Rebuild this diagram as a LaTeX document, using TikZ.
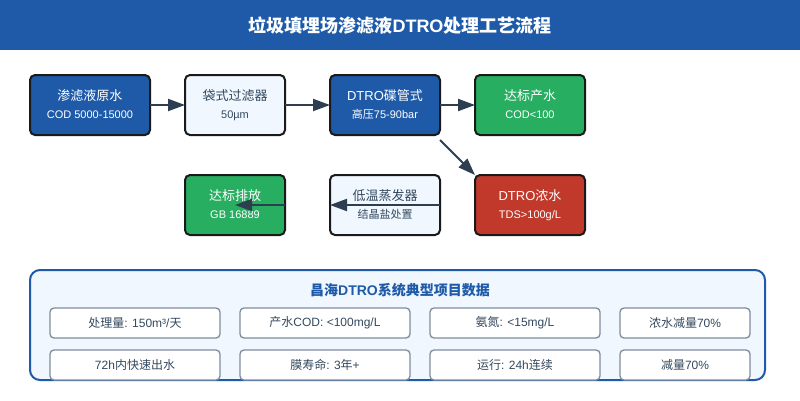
\documentclass[tikz,border=0pt]{standalone}
\usepackage{fontspec}
\usetikzlibrary{arrows.meta}
\setmainfont{Liberation Sans}
\newfontfamily\cjk{Noto Sans CJK SC}
\newcommand{\zh}[1]{{\cjk #1}}
\newcommand{\subline}[1]{{\fontsize{11}{13}\selectfont #1\rule[-2pt]{0pt}{2pt}}}
\definecolor{cband}{HTML}{1E5AA8}
\definecolor{cpale}{HTML}{F0F7FF}
\definecolor{cgreen}{HTML}{27AE60}
\definecolor{cred}{HTML}{C0392B}
\definecolor{cink}{HTML}{1A1A1A}
\definecolor{cflow}{HTML}{2C3E50}
\definecolor{ctext}{HTML}{34495E}
\definecolor{ccard}{HTML}{7F8C9D}
\tikzset{
  procbox/.style={draw=cink,line width=2pt,rounded corners=5pt,outer sep=0pt,inner sep=0pt,
    minimum height=60pt,align=center,font=\fontsize{13}{15}\selectfont},
  darkbox/.style={procbox,text=white},
  palebox/.style={procbox,fill=cpale,text=ctext},
  flow/.style={draw=cflow,line width=2pt,-{Triangle[length=17pt,width=12pt]}},
  card/.style={draw=ccard,line width=1.3pt,fill=white,rounded corners=4pt,outer sep=0pt,inner sep=0pt,
    minimum height=30pt,text=ctext,font=\fontsize{12}{14}\selectfont},
}
\begin{document}
\begin{tikzpicture}[x=1pt,y=-1pt]
\useasboundingbox (0,0) rectangle (800,400);
% title band
\node[fill=cband,minimum width=800pt,minimum height=50pt,outer sep=0pt,inner sep=0pt] (band) at (400,25) {};
\node[text=white,inner sep=0pt,font=\fontsize{18}{22}\selectfont\bfseries] (title) at (400,26)
  {{\cjk\bfseries 垃圾填埋场渗滤液}DTRO{\cjk\bfseries 处理工艺流程}};
% process boxes
\node[darkbox,fill=cband,minimum width=120pt] (raw) at (90,105) {\zh{渗滤液原水}\\[3pt]\subline{COD 5000-15000}};
\node[palebox,minimum width=100pt] (bag) at (235,105) {\zh{袋式过滤器}\\[3pt]\subline{50µm}};
\node[darkbox,fill=cband,minimum width=110pt] (dtro) at (385,105) {DTRO\zh{碟管式}\\[3pt]\subline{\zh{高压}75-90bar}};
\node[darkbox,fill=cgreen,minimum width=110pt] (product) at (530,105) {\zh{达标产水}\\[3pt]\subline{COD<100}};
\node[darkbox,fill=cred,minimum width=110pt] (conc) at (530,205) {DTRO\zh{浓水}\\[3pt]\subline{TDS>100g/L}};
\node[palebox,minimum width=110pt] (evap) at (385,205) {\zh{低温蒸发器}\\[3pt]\subline{\zh{结晶盐处置}}};
\node[darkbox,fill=cgreen,minimum width=100pt] (discharge) at (235,205) {\zh{达标排放}\\[3pt]\subline{GB 16889}};
% connectors
\coordinate (split) at (440,140);
\draw[flow] (raw.east) -- (bag.west);
\draw[flow] (bag.east) -- (dtro.west);
\draw[flow] (dtro.east) -- (product.west);
\draw[flow] (split) -- (conc.north west);
\draw[flow] (evap.east) -- (evap.west);
\draw[flow] (discharge.east) -- (discharge.center);
% data panel
\node[draw=cband,fill=cpale,line width=2pt,rounded corners=10pt,outer sep=0pt,inner sep=0pt,
  minimum width=735pt,minimum height=110pt] (panel) at (397.5,325) {};
\node[text=cband,inner sep=0pt,font=\fontsize{14}{17}\selectfont\bfseries] (paneltitle) at (400,290)
  {{\cjk\bfseries 昌海}DTRO{\cjk\bfseries 系统典型项目数据}};
\node[card,minimum width=170pt] (flowrate) at (135,323) {\zh{处理量}: 150m³/\zh{天}};
\node[card,minimum width=170pt] (cod) at (325,323) {\zh{产水}COD: <100mg/L};
\node[card,minimum width=170pt] (ammonia) at (515,323) {\zh{氨氮}: <15mg/L};
\node[card,minimum width=130pt] (reduce) at (685,323) {\zh{浓水减量}70\%};
\node[card,minimum width=170pt] (quick) at (135,365) {72h\zh{内快速出水}};
\node[card,minimum width=170pt] (life) at (325,365) {\zh{膜寿命}: 3\zh{年}+};
\node[card,minimum width=170pt] (run) at (515,365) {\zh{运行}: 24h\zh{连续}};
\node[card,minimum width=130pt] (less) at (685,365) {\zh{减量}70\%};
\end{tikzpicture}
\end{document}
